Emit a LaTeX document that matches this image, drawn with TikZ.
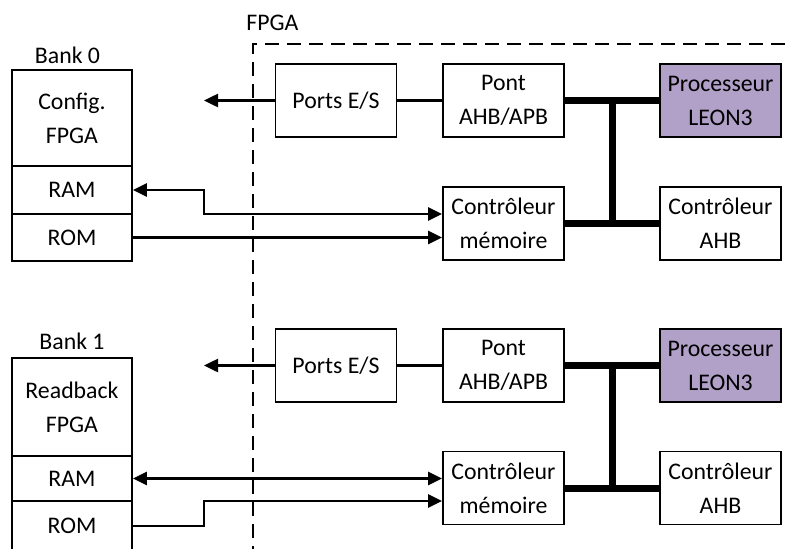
\documentclass[tikz,border=0pt]{standalone}
\usepackage{fontspec}
\setmainfont{Carlito}
\usetikzlibrary{arrows.meta,calc}
\definecolor{leon}{RGB}{177,160,199}
\begin{document}
\begin{tikzpicture}[x=1pt,y=-1pt,
  txt/.style={font=\fontsize{23.8}{34}\selectfont},
  box/.style={txt,draw,line width=1.9pt,minimum width=121pt,minimum height=73pt,inner sep=0pt,align=center},
  cell/.style={box,minimum width=120pt},
  proc/.style={box,fill=leon},
  lbl/.style={txt,inner sep=0pt,anchor=base},
  arr/.style={line width=2.5pt,-{Triangle[length=14pt,width=13pt]}},
  arrr/.style={line width=2.5pt,{Triangle[length=14pt,width=13pt]}-{Triangle[length=14pt,width=13pt]}},
  wire/.style={line width=2.3pt},
  bus/.style={line width=7pt},
  fpga/.style={line width=2pt,dash pattern=on 14pt off 8pt}]
\clip (0,0) rectangle (793,549);
\fill[white] (0,0) rectangle (793,549);
% FPGA boundary
\draw[fpga] (253,560) -- (253,44) -- (800,44);
\node[lbl] (fpgalbl) at (272.5,30) {FPGA};
\coordinate (jx) at (204,0);
% ---------- Bank 0 ----------
\node[lbl] (bk0) at (67.5,63.5) {Bank 0};
\node[cell,minimum height=96pt] (cfg0) at (72,118) {Config.\\FPGA};
\node[cell,minimum height=48pt] (ram0) at (72,190) {RAM};
\node[cell,minimum height=47pt] (rom0) at (72,237.5) {ROM};
\node[box] (ports0) at (336,100.5) {Ports E/S};
\node[box] (pont0) at (503.5,100.5) {Pont\\AHB/APB};
\node[proc] (proc0) at (720.5,100.5) {Processeur\\LEON3};
\node[box] (ctrl0) at (503.5,223.5) {Contrôleur\\mémoire};
\node[box] (ahb0) at (720.5,223.5) {Contrôleur\\AHB};
\draw[arr] (ports0.west) -- (ports0.west -| jx);
\draw[wire] (ports0.east) -- (pont0.west);
\draw[arrr] (ram0.east) -- (ram0.east -| jx) |- ($(ctrl0.west)+(0,-9.5)$);
\draw[arr] (rom0.east) -- (rom0.east -| ctrl0.west);
\draw[bus] (pont0.east) -- (proc0.west);
\draw[bus] (ctrl0.east) -- (ahb0.west);
\draw[bus] ($(pont0.east)!.5!(proc0.west)$) -- ($(ctrl0.east)!.5!(ahb0.west)$);
% ---------- Bank 1 ----------
\node[lbl] (bk1) at (72,349.5) {Bank 1};
\node[cell,minimum height=98pt] (cfg1) at (72,407) {Readback\\FPGA};
\node[cell,minimum height=45pt] (ram1) at (72,478.5) {RAM};
\node[cell,minimum height=50pt] (rom1) at (72,526) {ROM};
\node[box] (ports1) at (336,365.5) {Ports E/S};
\node[box] (pont1) at (503.5,365.5) {Pont\\AHB/APB};
\node[proc] (proc1) at (720.5,365.5) {Processeur\\LEON3};
\node[box] (ctrl1) at (503.5,488) {Contrôleur\\mémoire};
\node[box] (ahb1) at (720.5,488) {Contrôleur\\AHB};
\draw[arr] (ports1.west) -- (ports1.west -| jx);
\draw[wire] (ports1.east) -- (pont1.west);
\draw[arrr] (ram1.east) -- (ram1.east -| ctrl1.west);
\draw[arr] (rom1.east) -- (rom1.east -| jx) |- ($(ctrl1.west)+(0,13)$);
\draw[bus] (pont1.east) -- (proc1.west);
\draw[bus] (ctrl1.east) -- (ahb1.west);
\draw[bus] ($(pont1.east)!.5!(proc1.west)$) -- ($(ctrl1.east)!.5!(ahb1.west)$);
\end{tikzpicture}
\end{document}
